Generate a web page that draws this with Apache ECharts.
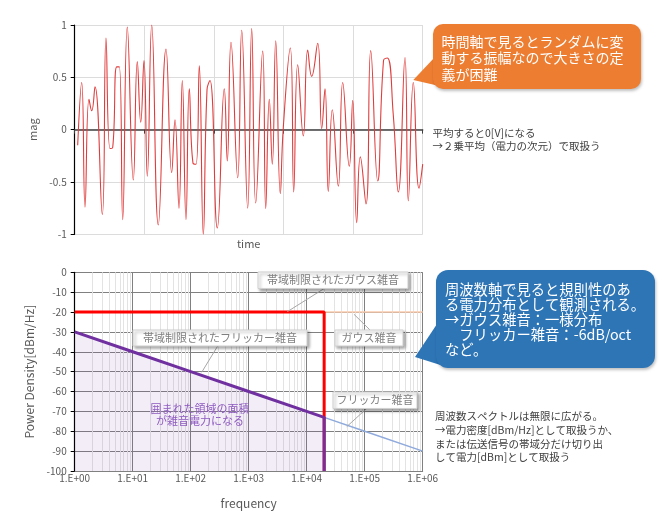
<!DOCTYPE html>
<html>
<head>
<meta charset="utf-8">
<script src="https://cdn.jsdelivr.net/npm/echarts@6/dist/echarts.min.js"></script>
<style>
  html, body { margin: 0; padding: 0; background: #fff; }
  #main { width: 660px; height: 525px; }
</style>
</head>
<body>
<div id="main"></div>
<script>
// 時間波形（ピーク・谷を読み取り）
const timeX = [0.86, 2.01, 2.96, 4.11, 4.89, 5.83, 7.93, 8.99, 10.14, 10.92, 12.07, 12.82, 13.79, 15.11,
  16.84, 17.99, 18.97, 19.91, 20.86, 22.13, 24.02, 26.24, 27.87, 28.82, 29.97, 30.92, 31.98, 32.93,
  33.99, 34.86, 35.80, 36.95, 38.02, 38.88, 40.98, 42.99, 43.85, 44.91, 46.84, 47.99, 49.71, 50.86,
  52.01, 54.02, 54.89, 55.92, 56.78, 57.76, 59.08, 59.94, 61.95, 62.93, 64.08, 65.69, 66.95, 68.10,
  69.83, 70.98, 71.93, 72.87, 74.02, 75.75, 77.01, 78.91, 79.89, 81.03, 82.07, 83.71, 85.06, 87.07,
  88.74, 89.83, 91.55, 92.99, 94.91, 95.86, 97.30, 98.94, 100]
const magY = [-0.15, 0.45, -0.74, 0.29, 0.18, 0.41, -0.81, 0.875, -0.18, -0.17, 0.6, 0.6, -0.86, 0.98,
  -0.48, 0.65, 0.07, 0.66, -0.445, 1.0, -0.91, 0.77, -0.41, 0.095, -0.75, 0.47, -0.86, 0.39,
  -0.32, -0.33, 0.61, -1.0, 0.38, 0.47, -0.94, 0.39, -0.30, 0.835, -0.46, 0.95, -0.75, 0.965,
  -0.70, 0.75, -0.755, 0.29, -0.33, 0.85, -0.61, 0.02, 0.78, -0.595, 0.62, -0.06, 0.76, 0.51,
  0.825, 0.01, 0.39, -0.59, 0.19, -0.54, 0.45, -0.35, 0.28, -0.89, -0.26, -0.71, 0.755, -0.49,
  0.66, 0.685, 0.14, -0.595, 0.69, -0.68, 0.45, -0.56, -0.33]
const magTicks = ['1', '0.5', '0', '-0.5', '-1']

// 周波数スペクトル
const gaussBLFreq = [1, 20000, 20000]
const gaussBLdB = [-20, -20, -100]
const gaussFreq = [20000, 1000000]
const gaussdB = [-20, -20]
const flickerBLFreq = [1, 10, 100, 1000, 10000, 20000, 20000]
const flickerBLdB = [-30, -40, -50, -60, -70, -73, -100]
const flickerFreq = [20000, 100000, 1000000]
const flickerdB = [-73, -80, -90]

const zip = (xs, ys) => xs.map((x, i) => [x, ys[i]])

// 対数軸の補助目盛り（2〜9）
const minorFreqs = []
for (let d = 0; d < 6; d++) {
  for (let m = 2; m <= 9; m++) minorFreqs.push({ xAxis: m * Math.pow(10, d) })
}

const gray = '#595959'
const jp = '"Noto Sans CJK JP", "Noto Sans", sans-serif'

const chart = echarts.init(document.getElementById('main'))

// 注釈ボックス
const labelBox = (x, y, w, h, text) => ({
  type: 'group', z: 50,
  children: [
    {
      type: 'rect', z: 50, shape: { x: x, y: y, width: w, height: h },
      style: { fill: '#fff', stroke: '#d0d0d0', lineWidth: 1, shadowBlur: 3, shadowOffsetX: 2, shadowOffsetY: 2, shadowColor: 'rgba(0,0,0,0.35)' }
    },
    {
      type: 'text', z: 51, x: x + w / 2, y: y + h / 2,
      style: { text: text, fill: '#7f7f7f', font: '11px ' + jp, align: 'center', verticalAlign: 'middle' }
    }
  ]
})
const leader = (x1, y1, x2, y2) => ({
  type: 'line', z: 50, shape: { x1: x1, y1: y1, x2: x2, y2: y2 },
  style: { stroke: '#a6a6a6', lineWidth: 1 }
})

const option = {
  animation: false,
  textStyle: { fontFamily: jp },
  grid: [
    { left: 74.7, top: 25, width: 348, height: 209.3 },
    { left: 74.7, top: 272.3, width: 348, height: 198.7 }
  ],
  xAxis: [
    {
      gridIndex: 0, type: 'value', min: 0, max: 100, interval: 20,
      name: 'time', nameLocation: 'middle', nameGap: 4,
      nameTextStyle: { color: gray, fontSize: 11 },
      axisLine: { onZero: true, lineStyle: { color: '#404040', width: 1.5 } },
      axisTick: { show: true, length: 4, lineStyle: { color: '#404040' } },
      axisLabel: { show: false },
      splitLine: { lineStyle: { color: '#dcdcdc' } }
    },
    {
      gridIndex: 1, type: 'log', logBase: 10, min: 1, max: 1000000, splitNumber: 6,
      name: 'frequency', nameLocation: 'middle', nameGap: 26,
      nameTextStyle: { color: gray, fontSize: 12 },
      axisLine: { onZero: false, lineStyle: { color: '#808080' } },
      axisTick: { show: false },
      axisLabel: {
        color: gray, fontSize: 10, margin: 2,
        formatter: v => '1.E+' + String(Math.round(Math.log10(v))).padStart(2, '0')
      },
      splitLine: { lineStyle: { color: '#808080' } }
    }
  ],
  yAxis: [
    {
      gridIndex: 0, type: 'value', min: -1, max: 1, interval: 0.5,
      name: 'mag', nameLocation: 'middle', nameGap: 34,
      nameTextStyle: { color: gray, fontSize: 11 },
      axisLine: { show: true, lineStyle: { color: '#000', width: 1.2 } },
      axisTick: { show: true, length: 4, lineStyle: { color: '#000' } },
      axisLabel: { color: gray, fontSize: 10, margin: 8, formatter: v => magTicks[Math.round((1 - v) / 0.5)] },
      splitLine: { lineStyle: { color: '#dcdcdc' } }
    },
    {
      gridIndex: 1, type: 'value', min: -100, max: 0, interval: 10,
      name: 'Power Density[dBm/Hz]', nameLocation: 'middle', nameGap: 38,
      nameTextStyle: { color: gray, fontSize: 12 },
      axisLine: { show: true, onZero: false, lineStyle: { color: '#000', width: 1.2 } },
      axisTick: { show: true, length: 4, lineStyle: { color: '#000' } },
      axisLabel: { color: gray, fontSize: 10, margin: 8 },
      splitLine: { lineStyle: { color: '#808080' } }
    }
  ],
  series: [
    {
      type: 'line', xAxisIndex: 0, yAxisIndex: 0, smooth: 0.5, showSymbol: false,
      data: zip(timeX, magY),
      lineStyle: { color: '#e03c3c', width: 1.1 }
    },
    {
      // 補助目盛り線
      type: 'line', xAxisIndex: 1, yAxisIndex: 1, data: [], silent: true, z: 1,
      markLine: {
        silent: true, z: 1, symbol: 'none', label: { show: false },
        lineStyle: { color: '#e3e3e3', type: 'solid', width: 1 },
        data: minorFreqs
      }
    },
    {
      name: 'ガウス雑音', type: 'line', xAxisIndex: 1, yAxisIndex: 1, showSymbol: false,
      data: zip(gaussFreq, gaussdB),
      lineStyle: { color: '#f8cbad', width: 1.5 }
    },
    {
      name: 'フリッカー雑音', type: 'line', xAxisIndex: 1, yAxisIndex: 1, showSymbol: false,
      data: zip(flickerFreq, flickerdB),
      lineStyle: { color: '#8faadc', width: 1.5 }
    },
    {
      name: '帯域制限されたガウス雑音', type: 'line', xAxisIndex: 1, yAxisIndex: 1, showSymbol: false,
      data: zip(gaussBLFreq, gaussBLdB),
      lineStyle: { color: '#ff0000', width: 3 }
    },
    {
      name: '帯域制限されたフリッカー雑音', type: 'line', xAxisIndex: 1, yAxisIndex: 1, showSymbol: false,
      data: zip(flickerBLFreq, flickerBLdB),
      lineStyle: { color: '#7030a0', width: 3 },
      areaStyle: { origin: 'start', color: 'rgba(112,48,160,0.12)' }
    }
  ],
  graphic: [
    // オレンジの吹き出し
    {
      type: 'polygon', z: 50, shape: { points: [[434, 58], [413.3, 80], [448, 88]] },
      style: { fill: '#ed7d31' }
    },
    {
      type: 'rect', z: 50, shape: { x: 433, y: 24, width: 208, height: 65, r: 10 },
      style: { fill: '#ed7d31', shadowBlur: 3, shadowOffsetX: 1, shadowOffsetY: 2, shadowColor: 'rgba(0,0,0,0.25)' }
    },
    {
      type: 'text', z: 51, x: 441.5, y: 33.5,
      style: { text: '時間軸で見るとランダムに変\n動する振幅なので大きさの定\n義が困難', fill: '#fff', font: '14px ' + jp, lineHeight: 16.3 }
    },
    {
      type: 'text', z: 51, x: 432.5, y: 126.5,
      style: { text: '平均すると0[V]になる\n→２乗平均（電力の次元）で取扱う', fill: '#404040', font: '10.5px ' + jp, lineHeight: 13 }
    },
    // 青の吹き出し
    {
      type: 'polygon', z: 50, shape: { points: [[437, 324], [415, 357], [450, 368]] },
      style: { fill: '#2e75b6' }
    },
    {
      type: 'rect', z: 50, shape: { x: 436, y: 270, width: 219, height: 98, r: 12 },
      style: { fill: '#2e75b6', shadowBlur: 3, shadowOffsetX: 1, shadowOffsetY: 2, shadowColor: 'rgba(0,0,0,0.25)' }
    },
    {
      type: 'text', z: 51, x: 445, y: 281.5,
      style: { text: '周波数軸で見ると規則性のあ\nる電力分布として観測される。\n→ガウス雑音：一様分布\n　フリッカー雑音：-6dB/oct\nなど。', fill: '#fff', font: '14.3px ' + jp, lineHeight: 15.2 }
    },
    {
      type: 'text', z: 51, x: 435, y: 409.5,
      style: { text: '周波数スペクトルは無限に広がる。\n→電力密度[dBm/Hz]として取扱うか、\nまたは伝送信号の帯域分だけ切り出\nして電力[dBm]として取扱う', fill: '#404040', font: '10.5px ' + jp, lineHeight: 13.7 }
    },
    // 系列の注釈
    leader(325, 288, 287.3, 311.7),
    leader(354, 314.3, 370, 330),
    leader(218.3, 345, 201.7, 372.3),
    leader(366.7, 408.5, 346.7, 426.7),
    labelBox(258, 272, 150, 16.5, '帯域制限されたガウス雑音'),
    labelBox(335, 330, 68, 16, 'ガウス雑音'),
    labelBox(133, 330, 174, 16, '帯域制限されたフリッカー雑音'),
    labelBox(333, 392, 84, 16.5, 'フリッカー雑音'),
    {
      type: 'text', z: 51, x: 200, y: 414.5,
      style: { text: '囲まれた領域の面積\nが雑音電力になる', fill: '#8e5cc0', font: '11px ' + jp, lineHeight: 12, align: 'center', verticalAlign: 'middle' }
    }
  ]
}
chart.setOption(option)
</script>
</body>
</html>
